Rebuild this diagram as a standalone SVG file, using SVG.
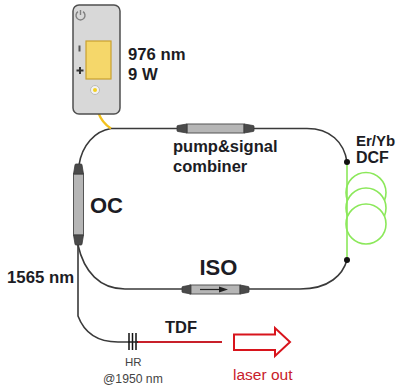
<svg xmlns="http://www.w3.org/2000/svg" width="396" height="387" viewBox="0 0 396 387">
<style>
text{font-family:"Liberation Sans",Arial,sans-serif;fill:#1c1c24}
.b{font-weight:bold}
.f{fill:none;stroke:#3a3a3a;stroke-width:1.600}
.g{fill:#fff;stroke:#8be85a;stroke-width:1.600}
.body{fill:#b6b6b6;stroke:#555;stroke-width:1}
.cap{fill:#4a4a4a;stroke:#3a3a3a;stroke-width:.8;stroke-linejoin:round}
</style>
<rect width="396" height="387" fill="#fff"/>
<g id="connectors">
<path class="f" d="M111 128.500H177M254 128.500H307C330 128.500 344 142 347 162"/>
<path class="f" d="M111 128.500C95 131 82 145 79 165"/>
<path class="f" d="M347 260C343 274 330 289 300 289H249M182 289H125C100 289 84 272 78 245"/>
<path class="f" d="M78 245V316C84 332 97 342 118 342H130"/>
<path d="M95 92C96 108 98 120 111 128.500" fill="none" stroke="#f2c11e" stroke-width="2.400"/>
<path d="M137 342H222" stroke="#c8202a" stroke-width="2.200" fill="none"/>
</g>
<g id="laser">
<rect x="73" y="5" width="47" height="109" rx="6" fill="#d8d8d8" stroke="#4f4f4f" stroke-width="1.500"/>
<path d="M78 11.700A4.500 4.500 0 1 0 83 11.700M80.500 10V15" fill="none" stroke="#808080" stroke-width="1.400"/>
<rect x="86" y="41" width="25" height="38" fill="#f5d76a" stroke="#c9a030" stroke-width="1.200"/>
<rect x="78.500" y="45.500" width="2" height="6" fill="#555"/>
<path d="M76.500 70.500H83.500M80 67V74" stroke="#333" stroke-width="2"/>
<circle cx="95" cy="90" r="4.500" fill="#f2f2f2" stroke="#bbb"/>
<circle cx="95" cy="90" r="2" fill="#f2d020"/>
<text class="b" x="128" y="60" font-size="16.700">976 nm</text>
<text class="b" x="128" y="80" font-size="16.700">9 W</text>
</g>
<g id="combiner">
<rect x="187" y="124" width="57" height="9" class="body"/>
<path class="cap" d="M177 126.500Q177 125.500 178 125.500L187 124V133L178 131.500Q177 131.500 177 130.500ZM254 126.500Q254 125.500 253 125.500L244 124V133L253 131.500Q254 131.500 254 130.500Z"/>
<text class="b" x="173" y="152" font-size="16.500">pump&amp;signal</text>
<text class="b" x="173" y="172" font-size="16.500">combiner</text>
</g>
<g id="oc">
<rect x="73.500" y="174" width="10" height="61" class="body"/>
<path class="cap" d="M76 164Q75 164 75 165L73.500 174H83.500L82 165Q82 164 81 164ZM76 245Q75 245 75 244L73.500 235H83.500L82 244Q82 245 81 245Z"/>
<text class="b" x="90" y="213" font-size="22">OC</text>
</g>
<g id="dcf">
<circle class="g" cx="366" cy="192.500" r="20"/>
<circle class="g" cx="366" cy="208" r="20"/>
<circle class="g" cx="366" cy="224" r="20"/>
<path d="M347 162V260" fill="none" stroke="#8be85a" stroke-width="1.600"/>
<circle cx="347" cy="162" r="3" fill="#111"/>
<circle cx="347" cy="260" r="3" fill="#111"/>
<text class="b" x="356" y="146" font-size="15">Er/Yb</text>
<text class="b" x="356" y="163" font-size="16">DCF</text>
</g>
<g id="iso">
<rect x="190" y="285" width="50" height="9" class="body"/>
<path class="cap" d="M182 287.500Q182 286.500 183 286.500L191 285V294L183 292.500Q182 292.500 182 291.500ZM249 287.500Q249 286.500 248 286.500L240 285V294L248 292.500Q249 292.500 249 291.500Z"/>
<path d="M200 289.500H222" stroke="#222" stroke-width="1.200"/>
<path d="M219 286.500L228 289.500L219 292.500Z" fill="#222"/>
<text class="b" x="199.500" y="275" font-size="22">ISO</text>
</g>
<g id="labels">
<text class="b" x="7" y="283" font-size="16.800">1565 nm</text>
<path d="M129 333V350M132.500 333V350M136 333V350" stroke="#111" stroke-width="1.500"/>
<path d="M128 342H138" stroke="#222" stroke-width="1.500"/>
<text x="125" y="366" font-size="11.500" style="fill:#444">HR</text>
<text x="103" y="383" font-size="12.200" style="fill:#444">@1950 nm</text>
<text class="b" x="165" y="333" font-size="16.500">TDF</text>
<path d="M234 334.500H275V328L290 342L275 356V350H234Z" fill="#fff" stroke="#d8141c" stroke-width="2"/>
<text x="233" y="380" font-size="15.500" style="fill:#c8202a">laser out</text>
</g>
</svg>
